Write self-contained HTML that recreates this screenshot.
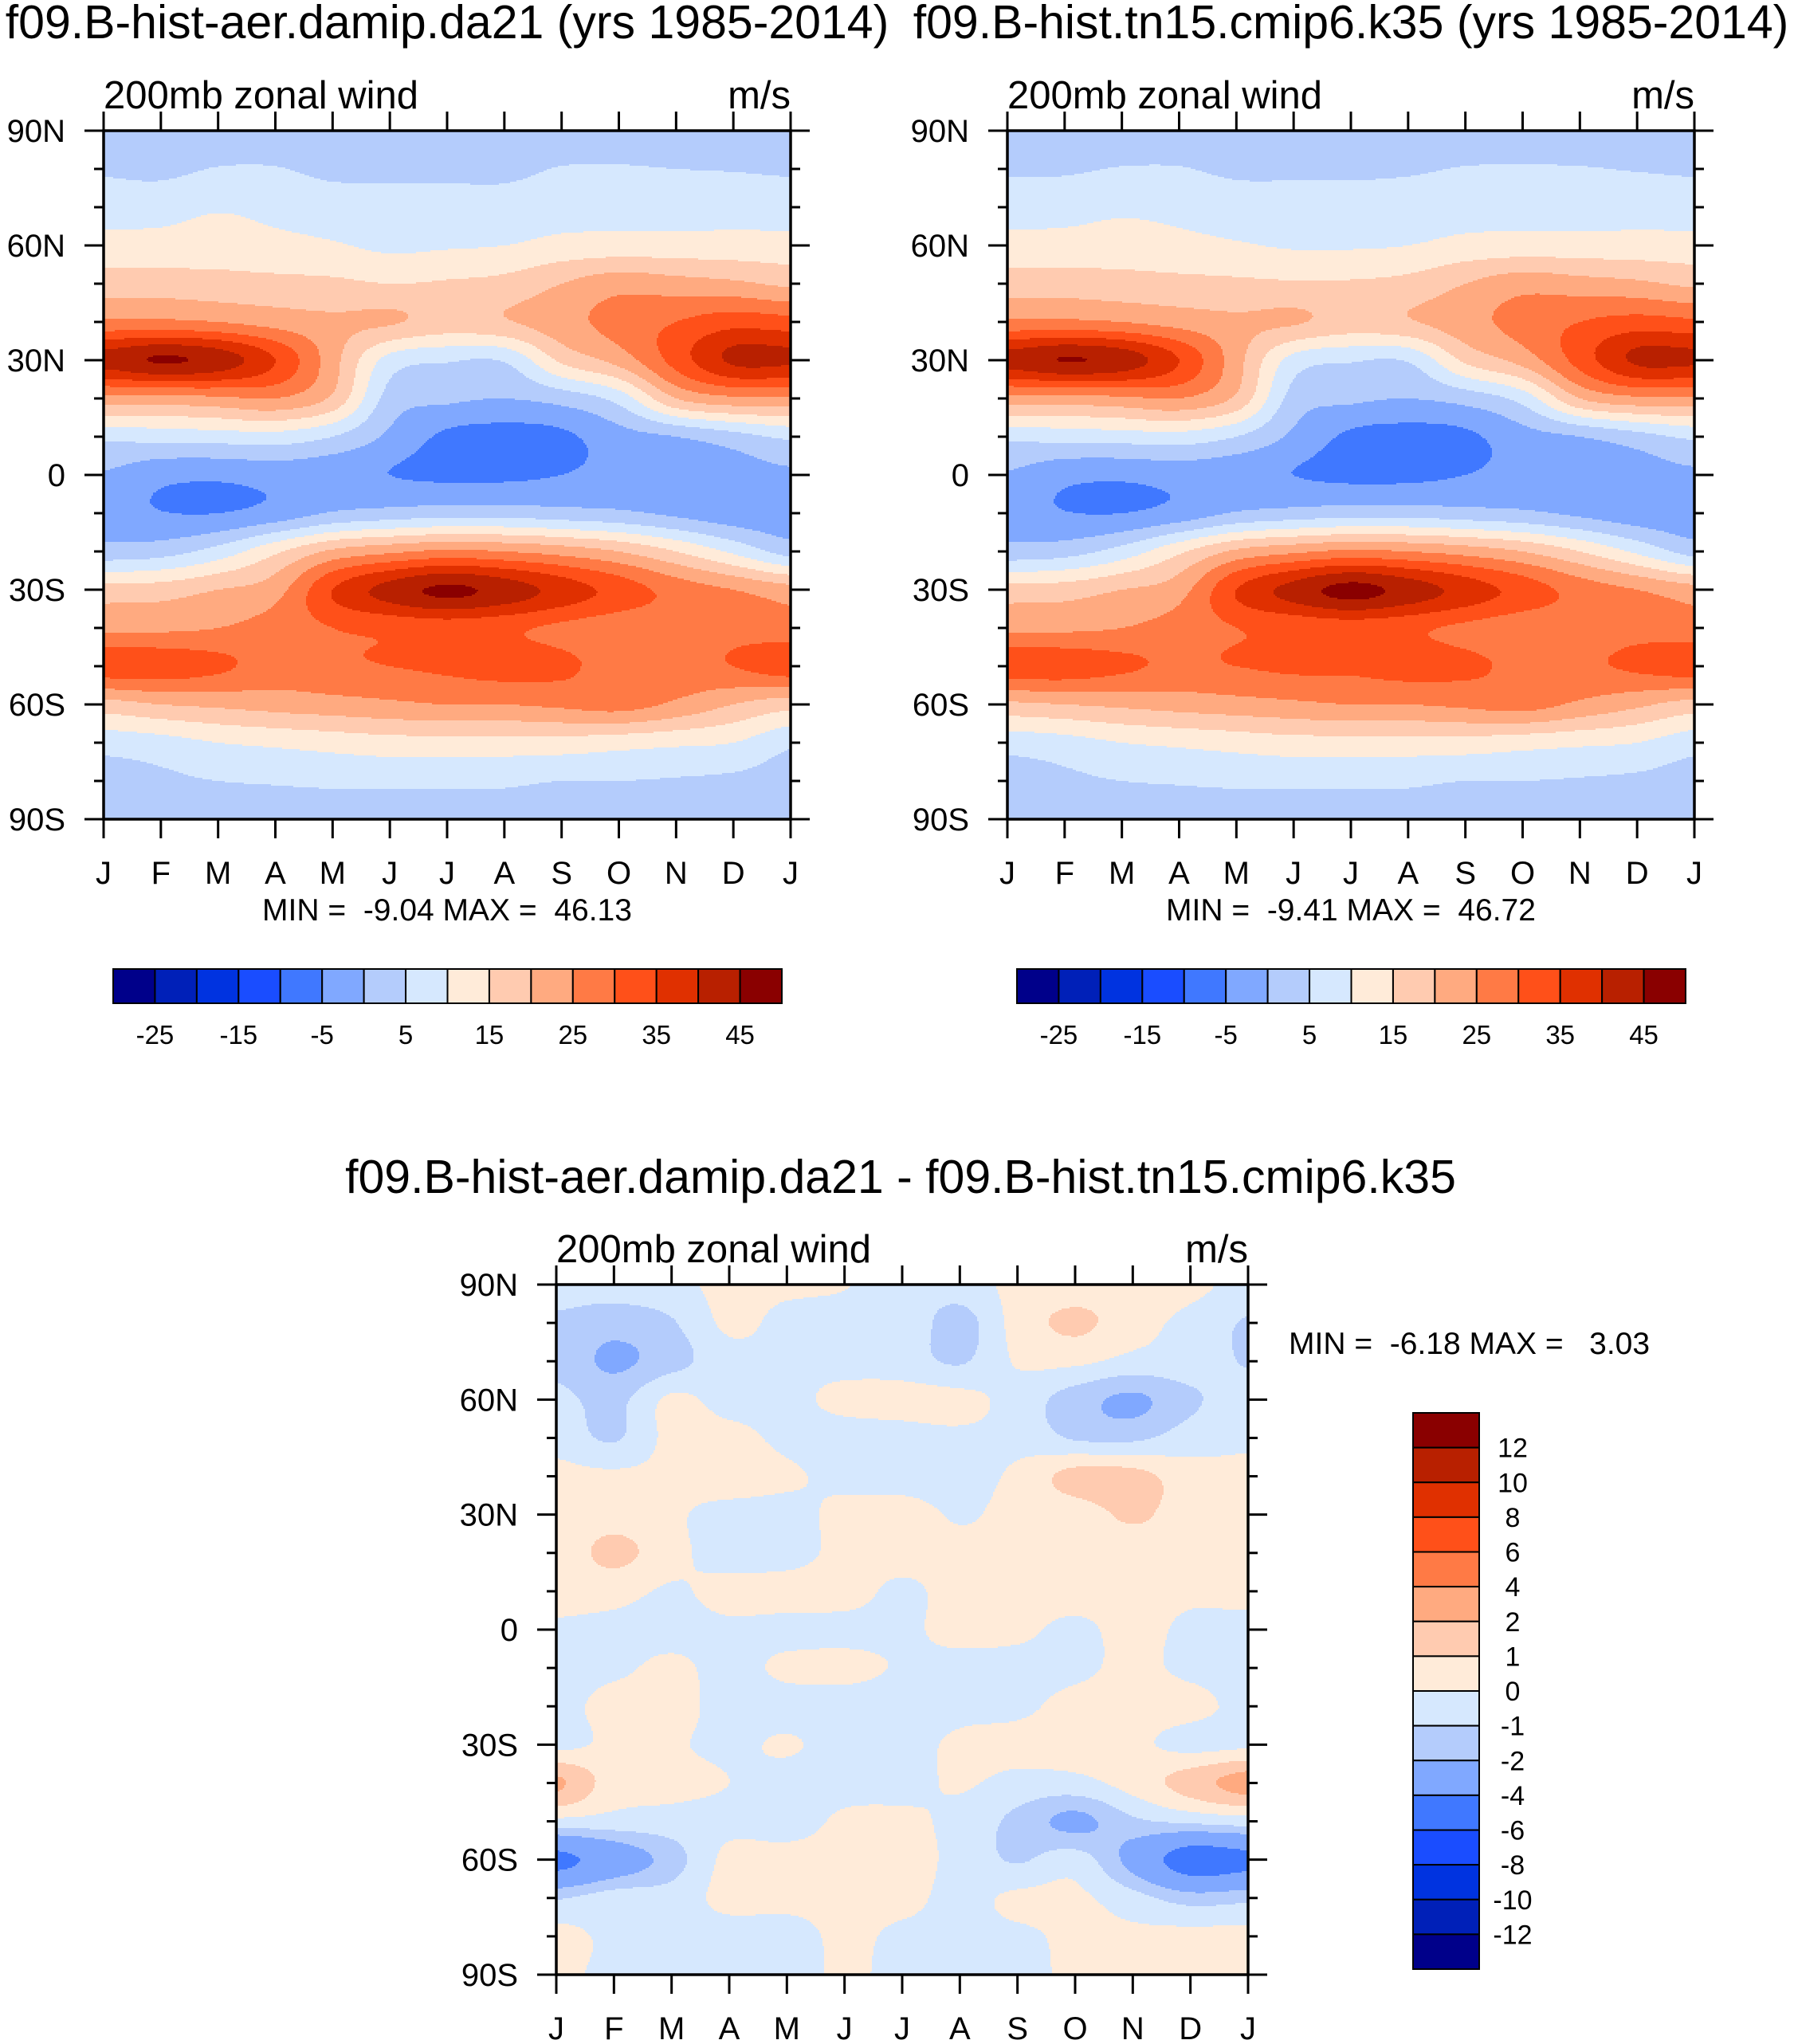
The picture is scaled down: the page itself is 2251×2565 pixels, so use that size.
<!DOCTYPE html>
<html><head><meta charset="utf-8">
<style>
html,body{margin:0;padding:0;background:#fff;}
svg{display:block;font-family:"Liberation Sans",Arial,sans-serif;}
text{white-space:pre;}
</style></head>
<body>
<svg id="fig" width="2251" height="2565" viewBox="0 0 2251 2565" xmlns="http://www.w3.org/2000/svg" xml:space="preserve"></svg>
<script>
const months = ["J","F","M","A","M","J","J","A","S","O","N","D","J"];
const latTickLabels = ["90N","60N","30N","0","30S","60S","90S"];
const levelsTop = [-25,-20,-15,-10,-5,0,5,10,15,20,25,30,35,40,45];
const levelsTopLabels = ["-25","-15","-5","5","15","25","35","45"];
const levelsDiff = [-12,-10,-8,-6,-4,-2,-1,0,1,2,4,6,8,10,12];
const palette = ["#00008a","#0020b8","#0033e0","#1a4dff","#4078ff","#80a8ff","#b4ccfc","#d6e8fe","#ffebd9","#ffcbb0","#ffaa80","#ff7a45","#ff5019","#e03000","#b82000","#8a0000"];
// rows: latitude 90N .. 90S every 10 deg; columns: J..D,J
const fieldA = [
[3,3,3,3,3,3,3,3,3,3,3,3,3],
[4.5,4,5.2,5.2,4,4,4,4,5.2,5.3,5,4.8,4.5],
[7.5,8,9.5,8.5,7.5,7,7,7,8,8,8,8,7.5],
[12,12,12.5,11.5,10.5,9,9.5,10,11.5,12,12,12,12],
[17.5,17.5,17,16.5,16,15,15.5,16.5,20,23,22,21,19],
[26,26,25,23,21,20.5,18,19.5,23,27,30,33,32],
[42,45.5,43,35,22,8,5.5,5.5,16,22,32,41,41],
[23,23,24,25,19,3,1,0,2,7,20,24,24],
[6.5,7,7.5,8,5,-1,-6,-7,-6,-2,0,3,6],
[-0.5,-3.5,-4,-3,-3.5,-5,-6,-6,-5,-3,-2.5,-2,-1],
[-3,-4.8,-5,-3,0.5,2,3,3,2,1,-1,-3,-3],
[2,3,7,14,21,24,26,25,23,20,15,9,3],
[17,17.5,20,23,35,42,46,43,38,33,28,25,22],
[24,24,25,27,30,31,32,31,29,27,27,28,27],
[33,33,31,28,29,30,31,32,31,28,28,30,33],
[18,20,21,22,23,24,25,25,26,27,24,20,17],
[7,8,10,11,12,13,13,13,13,12,11,10,6],
[3,4,5,5.5,6,6,6,6,5,5,4.5,4,3],
[2,2,2,2,2,2,2,2,0.5,0.5,0.5,2,2]];
const fieldB = [
[3,3,3,3,3,3,3,3,3,3,3,3,3],
[4.5,4.5,5.2,5.2,4.2,4.2,4.2,4.5,5.2,5.3,5.2,4.8,4.5],
[7.5,8,9,8.5,7.5,7.2,7.2,7.5,8,8.2,8,8,7.5],
[12,12,12.5,11.5,10.5,9.5,9.5,10,11.5,12,12,12,12],
[17.5,17.5,17,16.5,16,15.5,15.5,16.5,20,23,22,21,19],
[26,26,25,23,21,20.5,18,19.5,23,27,30,32,31],
[42,45.2,43,35,22,8,5.5,5.5,16,22,32,41,41],
[23,23,24,25,19,3,1,0,2,7,20,24,24],
[6.5,7,7.5,8,5,-1,-6,-7,-6,-2,0,3,6],
[-0.5,-3.5,-4,-3,-3.5,-5,-6.2,-6.2,-5,-3,-2.5,-2,-1],
[-3,-4.8,-5,-3,0.5,2,3,3,2,1,-1,-3,-3],
[2,3,7,14,21,24,26,25,23,20,15,9,3],
[17,17.5,20,23,35,42,46.7,43,38,33,28,25,22],
[24,24,25,27,30,31,32,31,29,27,27,28,27],
[33,33,31,29,30,31,31,32,31,29,29,31,33],
[19,20,21,22,23,24,25,25,26,27,24,21,18],
[7,8,10,11,12,13,13,13,13,12,11,10,7],
[3,4,5,5.5,6,6,6,6,5,5,4.5,4,3],
[2,2,2,2,2,2,2,2,0.5,0.5,0.5,2,2]];
const fieldDiff = [
[-0.5,-0.5,-0.3,0.3,0.2,0.05,-0.5,-0.5,0.3,0.5,0.4,0.3,-0.4],
[-1.2,-1.6,-1.1,0.2,-0.3,-0.4,-0.3,-1.4,0.4,1.2,0.4,-0.3,-1.1],
[-1.3,-2.2,-1.4,-0.4,-0.3,-0.4,-0.5,-1.1,0.1,0.2,-0.3,-0.4,-1.1],
[-0.7,-1.3,0.2,-0.4,-0.3,0.3,0.4,0.3,-0.4,-1.5,-2.2,-1.2,-0.4],
[-0.4,-1.1,0.3,0.4,-0.3,-0.5,-0.4,-0.2,-0.3,-1.1,-1.2,-0.5,-0.2],
[0.3,0.2,0.3,0.8,0.2,-0.3,-0.4,-0.3,0.2,1.4,1.4,0.4,0.3],
[0.3,0.5,0.2,-0.5,-0.4,0.3,0.4,-0.1,0.3,0.4,1.2,0.4,0.3],
[0.3,1.3,0.3,-0.4,-0.4,0.3,0.4,0.3,0.3,0.3,0.3,0.4,0.4],
[0.2,0.3,-0.1,0.3,0.4,0.4,-0.2,0.4,0.4,0.4,0.4,0.2,0.3],
[-0.1,-0.2,-0.3,-0.2,-0.3,-0.3,-0.2,0.3,0.2,-0.2,0.3,-0.2,-0.3],
[-0.4,-0.2,0.2,-0.3,0.2,0.3,-0.1,-0.3,-0.3,-0.2,0.2,-0.2,-0.4],
[-0.4,0.4,0.4,-0.4,-0.4,-0.5,-0.5,-0.3,-0.2,0.3,0.4,0.3,-0.3],
[-0.3,0.2,0.1,-0.2,0.1,-0.4,-0.4,0.2,0.3,0.4,0.2,-0.3,-0.2],
[2.2,0.5,0.3,0.0,-0.4,-0.4,-0.3,0.1,-0.3,-0.3,0.4,1.5,2.5],
[-0.3,-0.4,-0.4,-0.3,-0.5,0.2,0.2,-0.3,-1.3,-2.3,-1.2,-0.8,-0.5],
[-4.5,-3,-1.5,0.3,0.4,0.4,0.4,-0.3,-1.1,-0.5,-2.5,-5,-4.5],
[-1.1,-0.5,-0.5,0.3,0.3,0.3,0.3,-0.3,0.2,0.2,-0.6,-1.5,-1.3],
[0.3,-0.2,-0.3,-0.4,-0.4,0.2,-0.2,-0.3,-0.2,0.2,0.2,0.3,0.3],
[0.3,-0.3,-0.3,-0.3,-0.3,0.1,-0.2,-0.3,-0.3,0.2,0.3,0.3,0.3]];

const NS = "http://www.w3.org/2000/svg";
const svg = document.getElementById("fig");
function mk(tag, attrs, parent){ const e=document.createElementNS(NS,tag); for(const k in attrs) e.setAttribute(k,attrs[k]); (parent||svg).appendChild(e); return e; }
function txt(s, x, y, size, anchor, parent){ const t=mk("text",{x:x,y:y,"font-size":size,"text-anchor":anchor||"start",fill:"#000"},parent); t.textContent=s; return t; }

function cr(p0,p1,p2,p3,t){ return 0.5*((2*p1)+(-p0+p2)*t+(2*p0-5*p1+4*p2-p3)*t*t+(-p0+3*p1-3*p2+p3)*t*t*t); }
function sample(grid, r, c){
  const nr=grid.length, nc=grid[0].length;
  const r0=Math.min(Math.floor(r),nr-2), c0=Math.min(Math.floor(c),nc-2);
  const tr=r-r0, tc=c-c0;
  const g=(i,j)=>grid[Math.max(0,Math.min(nr-1,i))][Math.max(0,Math.min(nc-1,j))];
  const rows=[];
  for(let i=-1;i<=2;i++) rows.push(cr(g(r0+i,c0-1),g(r0+i,c0),g(r0+i,c0+1),g(r0+i,c0+2),tc));
  return cr(rows[0],rows[1],rows[2],rows[3],tr);
}
function levelIndex(v, levels){ let k=0; for(const L of levels) if(v>L) k++; return k; }

function drawField(name, grid, levels, x0, y0, w, h){
  const g=mk("g",{"shape-rendering":"crispEdges"});
  
  
  const nr=grid.length, nc=grid[0].length, step=2;
  for(let py=0; py<h; py+=step){
    const r=(py+step/2)/h*(nr-1);
    let runStart=0, runIdx=-1;
    for(let px=0; px<=w; px+=step){
      let idx=-2;
      if(px<w){ const c=(px+step/2)/w*(nc-1); idx=levelIndex(sample(grid,r,c),levels); }
      if(idx!==runIdx){
        if(runIdx>=0){
          const rc=mk("rect",{x:x0+runStart,y:y0+py,width:Math.min(px,w)-runStart+0.6,height:Math.min(step+0.6,h-py),fill:palette[runIdx]},g);
          
          
        }
        runStart=px; runIdx=idx;
      }
    }
  }
}

function drawAxes(prefix, x0, y0, w, h, ylabX){
  const g=mk("g",{});
  
  
  mk("rect",{x:x0,y:y0,width:w,height:h,fill:"none",stroke:"#000","stroke-width":3.5},g);
  for(let i=0;i<=18;i++){
    const y=y0+i*h/18, major=(i%3===0), L=major?24:12;
    mk("line",{x1:x0-L,y1:y,x2:x0,y2:y,stroke:"#000","stroke-width":3},g);
    mk("line",{x1:x0+w,y1:y,x2:x0+w+L,y2:y,stroke:"#000","stroke-width":3},g);
    if(major){ const t=txt(latTickLabels[i/3], ylabX, y+14, 40, "end", g);
      
       }
  }
  for(let m=0;m<months.length;m++){
    const x=x0+m*w/12;
    mk("line",{x1:x,y1:y0-24,x2:x,y2:y0,stroke:"#000","stroke-width":3},g);
    mk("line",{x1:x,y1:y0+h,x2:x,y2:y0+h+24,stroke:"#000","stroke-width":3},g);
    const t=txt(months[m], x, y0+h+81, 40, "middle", g);
    
    
  }
  const s=txt("200mb zonal wind", x0, y0-28, 49, "start", g);
  
  
  const u=txt("m/s", x0+w, y0-28, 49, "end", g);
  
  
}

function hColorbar(prefix, x0, y0, w, h){
  const g=mk("g",{});
  
  
  const bw=w/palette.length;
  palette.forEach((c,i)=>{
    const r=mk("rect",{x:x0+i*bw,y:y0,width:bw,height:h,fill:c,stroke:"#000","stroke-width":2},g);
    
    
  });
  levelsTopLabels.forEach((lab)=>{
    const k=levelsTop.indexOf(Number(lab));
    const t=txt(lab, x0+(k+1)*bw, y0+h+51, 33, "middle", g);
    
    
  });
}

const P1={x:130,y:164,w:862,h:864}, P2={x:1264,y:164,w:862,h:864}, P3={x:698,y:1612,w:868,h:866};
drawField("left-contour-field", fieldA, levelsTop, P1.x, P1.y, P1.w, P1.h);
drawAxes("left", P1.x, P1.y, P1.w, P1.h, 82);
drawField("right-contour-field", fieldB, levelsTop, P2.x, P2.y, P2.w, P2.h);
drawAxes("right", P2.x, P2.y, P2.w, P2.h, 1216);
drawField("diff-contour-field", fieldDiff, levelsDiff, P3.x, P3.y, P3.w, P3.h);
drawAxes("diff", P3.x, P3.y, P3.w, P3.h, 650);

let t;
t=txt("f09.B-hist-aer.damip.da21 (yrs 1985-2014)", 561, 48, 59, "middle");  
t=txt("f09.B-hist.tn15.cmip6.k35 (yrs 1985-2014)", 1695, 48, 59, "middle");  
t=txt("MIN =  -9.04 MAX =  46.13", 561, 1155, 39, "middle");  
t=txt("MIN =  -9.41 MAX =  46.72", 1695, 1155, 39, "middle");  
hColorbar("left", 142, 1216, 839, 43);
hColorbar("right", 1276, 1216, 839, 43);
t=txt("f09.B-hist-aer.damip.da21 - f09.B-hist.tn15.cmip6.k35", 1130, 1497, 59, "middle");  
t=txt("MIN =  -6.18 MAX =   3.03", 1617, 1699, 39, "start");  

(function(){
  const g=mk("g",{});
  
  
  const x0=1773,y0=1773,w=83,h=698,bh=h/palette.length;
  for(let i=0;i<palette.length;i++){
    const r=mk("rect",{x:x0,y:y0+i*bh,width:w,height:bh,fill:palette[palette.length-1-i],stroke:"#000","stroke-width":2},g);
    
    
  }
  for(let k=0;k<levelsDiff.length;k++){
    const lab=levelsDiff[levelsDiff.length-1-k];
    const tt=txt(String(lab), 1898, y0+(k+1)*bh+12, 34, "middle", g);
    
    
  }
})();
</script>
</body></html>
